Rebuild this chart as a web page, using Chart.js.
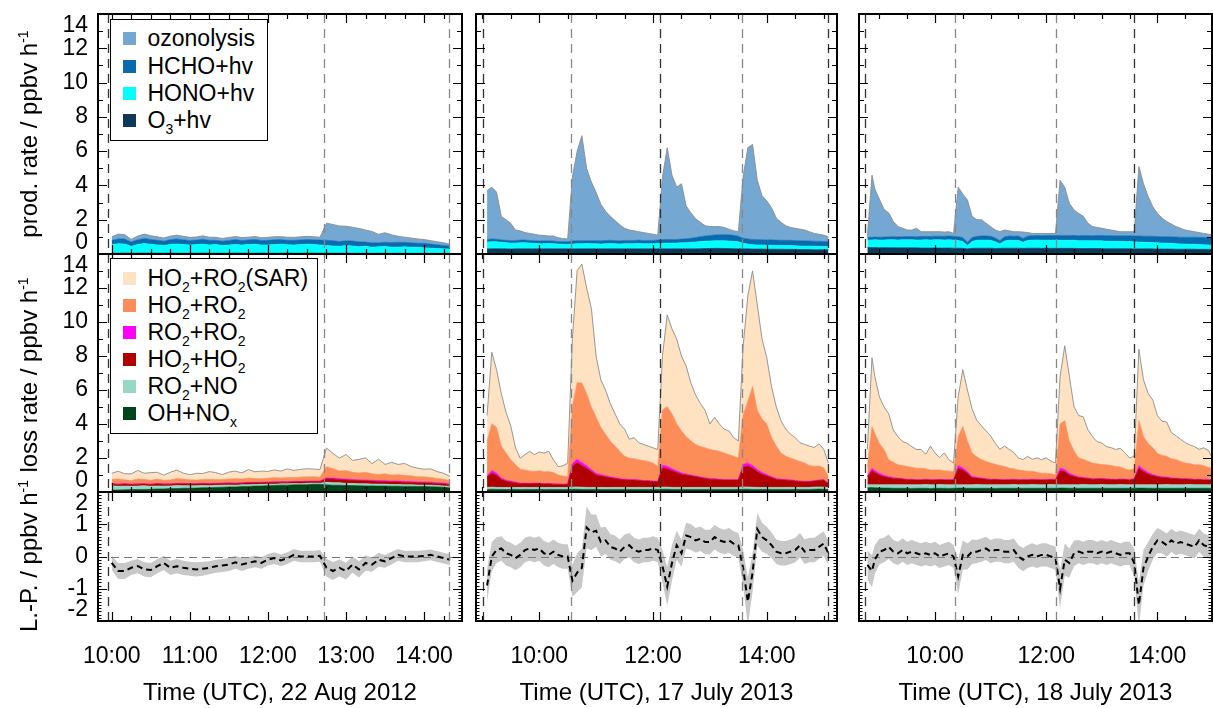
<!DOCTYPE html>
<html><head><meta charset="utf-8"><title>Radical production and loss rates</title>
<script src="https://cdn.jsdelivr.net/npm/chart.js@4.4.1/dist/chart.umd.min.js"></script>
<style>
html,body{margin:0;padding:0;background:#fff;}
#root{position:relative;width:1213px;height:708px;overflow:hidden;font-family:'Liberation Sans',Arial,Helvetica,sans-serif;color:#000;}
#root canvas{position:absolute;}
.lg{position:absolute;box-sizing:border-box;border:1.5px solid #000;background:#fff;font-size:23px;z-index:5;}
.lg .r{position:absolute;left:0;height:27px;line-height:27px;white-space:nowrap;}
.lg .s{position:absolute;left:11.5px;top:7px;width:13px;height:13px;}
.lg .t{position:absolute;left:36.5px;top:0;}
.lg sub{font-size:14px;vertical-align:-6px;line-height:0;}
.yt{position:absolute;font-size:24px;line-height:24px;white-space:nowrap;transform:translate(-50%,-50%) rotate(-90deg);z-index:5;}
.yt sup{font-size:14px;vertical-align:9px;line-height:0;}
</style></head><body><div id="root"></div>
<script>
const FONT="'Liberation Sans', Arial, Helvetica, sans-serif";
const hm=s=>{const p=s.split(':');return +p[0]+(+p[1])/60;};

// ---------------- 22 Aug 2012 ----------------
const P1_T=['10:00','10:05','10:10','10:15','10:20','10:25','10:30','10:35','10:40','10:45',
 '10:50','10:55','11:00','11:05','11:10','11:15','11:20','11:25','11:30','11:35',
 '11:40','11:45','11:50','11:55','12:00','12:05','12:10','12:15','12:20','12:25',
 '12:30','12:35','12:40','12:45','12:50','12:55','13:00','13:05','13:10','13:15',
 '13:20','13:25','13:30','13:35','13:40','13:45','13:50','13:55','14:00','14:05',
 '14:10','14:15','14:20'];
const P1_O3HV=[0.05,0.05,0.06,0.05,0.05,0.06,0.05,0.05,0.05,0.06,
 0.05,0.05,0.05,0.05,0.06,0.05,0.05,0.05,0.05,0.06,
 0.05,0.05,0.05,0.06,0.05,0.05,0.05,0.06,0.05,0.05,
 0.05,0.06,0.05,0.05,0.05,0.05,0.05,0.04,0.05,0.05,
 0.04,0.05,0.04,0.04,0.05,0.04,0.04,0.04,0.04,0.04,
 0.04,0.04,0.04];
const P1_HONO=[0.50,0.55,0.52,0.40,0.50,0.55,0.52,0.48,0.45,0.50,
 0.53,0.50,0.47,0.50,0.52,0.48,0.50,0.45,0.47,0.50,
 0.48,0.50,0.52,0.47,0.48,0.50,0.52,0.48,0.47,0.50,
 0.52,0.50,0.48,0.45,0.42,0.40,0.45,0.42,0.38,0.40,
 0.35,0.38,0.40,0.36,0.35,0.38,0.36,0.35,0.33,0.30,
 0.28,0.26,0.25];
const P1_HCHO=[0.25,0.28,0.30,0.25,0.28,0.30,0.28,0.27,0.25,0.28,
 0.30,0.28,0.27,0.26,0.28,0.27,0.25,0.25,0.27,0.28,
 0.26,0.27,0.28,0.26,0.27,0.28,0.27,0.26,0.28,0.27,
 0.28,0.27,0.28,0.30,0.30,0.28,0.27,0.30,0.28,0.25,
 0.27,0.22,0.25,0.27,0.28,0.26,0.25,0.24,0.25,0.24,
 0.22,0.20,0.18];
const P1_OZON=[0.20,0.28,0.25,0.15,0.22,0.25,0.22,0.20,0.18,0.20,
 0.22,0.20,0.18,0.18,0.20,0.18,0.17,0.16,0.17,0.18,
 0.17,0.16,0.17,0.16,0.17,0.18,0.17,0.18,0.17,0.18,
 0.18,0.18,0.17,1.00,0.95,0.90,0.85,0.80,0.78,0.70,
 0.65,0.50,0.55,0.45,0.35,0.30,0.28,0.25,0.22,0.20,
 0.18,0.15,0.10];
const P1_OHNOX=[0.12,0.12,0.13,0.14,0.15,0.15,0.16,0.18,0.18,0.20,
 0.20,0.22,0.22,0.23,0.25,0.25,0.27,0.28,0.30,0.30,
 0.32,0.33,0.35,0.35,0.37,0.38,0.40,0.40,0.42,0.42,
 0.43,0.45,0.45,0.42,0.40,0.40,0.38,0.38,0.37,0.36,
 0.36,0.35,0.35,0.34,0.34,0.33,0.33,0.32,0.32,0.31,
 0.30,0.28,0.25];
const P1_RO2NO=[0.25,0.22,0.22,0.20,0.20,0.22,0.18,0.18,0.17,0.16,
 0.18,0.15,0.15,0.14,0.13,0.12,0.12,0.12,0.11,0.10,
 0.10,0.10,0.09,0.10,0.09,0.08,0.08,0.08,0.08,0.07,
 0.08,0.07,0.07,0.15,0.15,0.14,0.13,0.12,0.12,0.12,
 0.11,0.11,0.11,0.10,0.10,0.10,0.10,0.09,0.09,0.09,
 0.08,0.08,0.08];
const P1_HO2HO2=[0.10,0.10,0.12,0.10,0.11,0.10,0.10,0.12,0.11,0.10,
 0.10,0.11,0.10,0.10,0.11,0.10,0.10,0.10,0.11,0.10,
 0.10,0.11,0.10,0.10,0.10,0.11,0.10,0.10,0.10,0.11,
 0.10,0.10,0.10,0.22,0.22,0.20,0.20,0.19,0.18,0.18,
 0.17,0.17,0.16,0.16,0.15,0.15,0.14,0.14,0.13,0.13,
 0.12,0.12,0.10];
const P1_RO2RO2=[0.03,0.03,0.03,0.03,0.03,0.03,0.03,0.03,0.03,0.03,
 0.03,0.03,0.03,0.03,0.03,0.03,0.03,0.03,0.03,0.03,
 0.03,0.03,0.03,0.03,0.03,0.03,0.03,0.03,0.03,0.03,
 0.03,0.03,0.03,0.05,0.05,0.05,0.05,0.05,0.05,0.05,
 0.05,0.05,0.05,0.05,0.05,0.05,0.05,0.05,0.05,0.05,
 0.05,0.05,0.05];
const P1_HO2RO2=[0.25,0.30,0.22,0.20,0.28,0.25,0.22,0.25,0.20,0.22,
 0.28,0.25,0.22,0.20,0.22,0.25,0.22,0.20,0.22,0.25,
 0.22,0.25,0.22,0.20,0.22,0.25,0.22,0.25,0.22,0.25,
 0.25,0.25,0.22,0.65,0.55,0.45,0.50,0.42,0.40,0.45,
 0.38,0.35,0.40,0.35,0.38,0.35,0.33,0.30,0.30,0.28,
 0.25,0.22,0.18];
const P1_SAR=[0.35,0.45,0.35,0.40,0.50,0.35,0.45,0.40,0.30,0.45,
 0.50,0.35,0.30,0.40,0.35,0.45,0.40,0.30,0.40,0.45,
 0.35,0.50,0.40,0.45,0.40,0.45,0.40,0.50,0.42,0.45,
 0.48,0.45,0.45,1.10,0.90,0.75,0.95,0.70,0.80,0.85,
 0.60,0.90,0.55,0.75,0.60,0.70,0.55,0.50,0.45,0.50,
 0.40,0.35,0.25];
const P1_LP=[-0.20,-0.45,-0.45,-0.35,-0.30,-0.40,-0.42,-0.30,-0.20,-0.35,
 -0.30,-0.35,-0.38,-0.40,-0.38,-0.35,-0.30,-0.28,-0.25,-0.18,
 -0.25,-0.20,-0.15,-0.20,-0.10,-0.05,-0.12,-0.05,0.05,0.00,
 0.00,0.00,0.02,-0.35,-0.45,-0.35,-0.45,-0.25,-0.40,-0.20,
 -0.25,-0.10,-0.15,-0.05,0.05,0.00,0.00,0.00,0.02,0.05,
 0.00,-0.05,-0.10];
const P1_ERR=[0.22,0.25,0.25,0.22,0.22,0.22,0.22,0.22,0.22,0.22,
 0.22,0.22,0.22,0.22,0.22,0.20,0.20,0.20,0.20,0.20,
 0.20,0.18,0.18,0.18,0.18,0.18,0.18,0.18,0.18,0.18,
 0.18,0.18,0.18,0.28,0.28,0.26,0.26,0.25,0.25,0.24,
 0.22,0.22,0.20,0.20,0.18,0.18,0.18,0.18,0.17,0.17,
 0.17,0.17,0.17];

// ---------------- 17 July 2013 ----------------
const P2_T=['09:05','09:10','09:15','09:20','09:25','09:30','09:35','09:40','09:45','09:50',
 '09:55','10:00','10:05','10:10','10:15','10:20','10:25','10:30','10:35','10:40',
 '10:45','10:50','10:55','11:00','11:05','11:10','11:15','11:20','11:25','11:30',
 '11:35','11:40','11:45','11:50','11:55','12:00','12:05','12:10','12:15','12:20',
 '12:25','12:30','12:35','12:40','12:45','12:50','12:55','13:00','13:05','13:10',
 '13:15','13:20','13:25','13:30','13:35','13:40','13:45','13:50','13:55','14:00',
 '14:05','14:10','14:15','14:20','14:25','14:30','14:35','14:40','14:45','14:50',
 '14:55','15:00','15:05'];
const P2_O3HV=[0.30,0.30,0.31,0.30,0.30,0.29,0.30,0.30,0.30,0.30,
 0.30,0.30,0.30,0.30,0.30,0.30,0.30,0.30,0.30,0.30,
 0.30,0.30,0.30,0.30,0.30,0.30,0.30,0.30,0.30,0.30,
 0.30,0.30,0.30,0.30,0.30,0.30,0.30,0.30,0.30,0.30,
 0.30,0.30,0.30,0.30,0.30,0.31,0.32,0.32,0.33,0.33,
 0.32,0.32,0.31,0.31,0.30,0.30,0.29,0.29,0.29,0.28,
 0.28,0.28,0.28,0.27,0.27,0.27,0.26,0.26,0.26,0.25,
 0.25,0.25,0.25];
const P2_HONO=[0.40,0.42,0.40,0.38,0.36,0.35,0.34,0.35,0.36,0.34,
 0.32,0.30,0.30,0.31,0.30,0.28,0.27,0.26,0.28,0.30,
 0.30,0.31,0.30,0.30,0.29,0.30,0.31,0.30,0.29,0.30,
 0.30,0.30,0.31,0.30,0.30,0.30,0.31,0.32,0.33,0.33,
 0.34,0.35,0.36,0.38,0.40,0.42,0.43,0.44,0.44,0.45,
 0.45,0.44,0.43,0.40,0.32,0.28,0.25,0.24,0.24,0.23,
 0.23,0.22,0.22,0.22,0.22,0.21,0.21,0.20,0.20,0.20,
 0.20,0.19,0.19];
const P2_HCHO=[0.15,0.16,0.15,0.15,0.14,0.14,0.15,0.16,0.16,0.15,
 0.15,0.16,0.17,0.16,0.16,0.15,0.15,0.16,0.18,0.18,
 0.17,0.17,0.18,0.18,0.18,0.19,0.19,0.18,0.18,0.19,
 0.19,0.19,0.20,0.19,0.19,0.19,0.20,0.22,0.22,0.21,
 0.21,0.22,0.23,0.24,0.26,0.28,0.30,0.32,0.34,0.35,
 0.36,0.36,0.35,0.33,0.30,0.30,0.31,0.31,0.30,0.31,
 0.32,0.31,0.30,0.31,0.31,0.30,0.30,0.31,0.30,0.30,
 0.29,0.29,0.28];
const P2_OZON=[2.85,3.02,2.75,1.37,1.20,1.01,0.61,0.54,0.43,0.41,
 0.38,0.34,0.31,0.28,0.29,0.22,0.18,0.16,3.74,5.22,
 6.13,4.22,3.42,2.82,2.13,1.71,1.40,1.17,0.93,0.71,
 0.61,0.56,0.49,0.46,0.41,0.36,0.29,3.66,5.35,3.76,
 3.05,3.23,1.91,1.48,1.09,0.84,0.60,0.52,0.49,0.47,
 0.42,0.33,0.26,0.26,3.58,5.32,5.55,3.46,2.57,2.28,
 1.87,1.29,1.05,0.85,0.75,0.72,0.68,0.63,0.54,0.45,
 0.41,0.37,0.28];
const P2_OHNOX=[0.15,0.16,0.15,0.15,0.14,0.15,0.15,0.14,0.15,0.15,
 0.15,0.15,0.14,0.15,0.15,0.15,0.14,0.15,0.16,0.16,
 0.15,0.15,0.15,0.15,0.15,0.14,0.15,0.15,0.15,0.15,
 0.15,0.15,0.15,0.15,0.15,0.15,0.15,0.16,0.16,0.15,
 0.15,0.15,0.15,0.15,0.15,0.15,0.15,0.15,0.15,0.15,
 0.15,0.15,0.15,0.15,0.16,0.16,0.15,0.15,0.15,0.15,
 0.15,0.15,0.15,0.15,0.15,0.15,0.15,0.15,0.15,0.16,
 0.17,0.16,0.14];
const P2_RO2NO=[0.12,0.13,0.12,0.12,0.12,0.11,0.12,0.12,0.12,0.11,
 0.12,0.12,0.12,0.12,0.11,0.12,0.12,0.12,0.13,0.14,
 0.13,0.12,0.12,0.12,0.12,0.12,0.11,0.12,0.12,0.12,
 0.12,0.12,0.12,0.12,0.12,0.12,0.12,0.13,0.13,0.12,
 0.12,0.12,0.12,0.12,0.12,0.12,0.12,0.12,0.12,0.12,
 0.12,0.12,0.12,0.12,0.14,0.14,0.13,0.12,0.12,0.12,
 0.12,0.12,0.12,0.12,0.12,0.12,0.12,0.12,0.12,0.13,
 0.13,0.13,0.12];
const P2_HO2HO2=[0.63,0.83,0.73,0.48,0.38,0.33,0.28,0.23,0.23,0.23,
 0.23,0.23,0.21,0.21,0.20,0.18,0.18,0.18,1.23,1.43,
 1.28,1.13,0.93,0.73,0.68,0.63,0.58,0.53,0.48,0.45,
 0.43,0.43,0.41,0.38,0.38,0.35,0.33,1.13,1.08,0.98,
 0.88,0.78,0.73,0.68,0.63,0.58,0.53,0.48,0.48,0.45,
 0.43,0.43,0.43,0.43,1.18,1.23,1.13,0.93,0.78,0.68,
 0.58,0.48,0.45,0.43,0.41,0.38,0.35,0.33,0.33,0.35,
 0.38,0.41,0.23];
const P2_RO2RO2=[0.05,0.15,0.12,0.08,0.06,0.05,0.04,0.04,0.03,0.03,
 0.03,0.03,0.03,0.03,0.03,0.03,0.03,0.03,0.15,0.20,
 0.18,0.15,0.12,0.10,0.08,0.07,0.05,0.05,0.04,0.04,
 0.04,0.04,0.04,0.03,0.03,0.03,0.03,0.15,0.15,0.12,
 0.10,0.08,0.06,0.05,0.05,0.04,0.04,0.04,0.04,0.04,
 0.03,0.03,0.03,0.03,0.15,0.18,0.15,0.12,0.10,0.08,
 0.06,0.05,0.04,0.04,0.04,0.03,0.03,0.03,0.03,0.03,
 0.03,0.03,0.03];
const P2_HO2RO2=[2.05,2.75,2.68,1.87,1.59,1.25,1.01,0.81,0.77,0.72,
 0.67,0.72,0.69,0.69,0.65,0.52,0.47,0.42,3.35,4.50,
 4.67,4.25,3.68,3.30,2.77,2.43,2.10,1.85,1.61,1.34,
 1.26,1.21,1.18,1.17,1.12,1.05,0.87,3.25,3.50,3.23,
 2.75,2.47,2.19,2.00,1.85,1.78,1.76,1.71,1.66,1.64,
 1.57,1.47,1.37,1.27,2.90,3.62,4.65,3.48,3.15,2.97,
 2.29,1.90,1.54,1.36,1.28,1.22,1.15,1.07,0.92,0.85,
 0.82,0.69,0.37];
const P2_SAR=[1.50,4.20,3.40,3.10,2.40,2.00,1.00,0.65,0.90,1.15,
 1.00,1.10,1.10,1.20,0.75,0.50,0.60,0.80,4.00,6.60,
 7.00,6.20,5.80,3.60,2.80,2.60,2.20,1.90,1.60,1.60,
 1.10,1.25,1.00,0.95,0.90,0.90,1.00,3.20,5.40,5.00,
 5.00,4.40,4.15,3.40,2.90,2.53,2.20,1.50,1.95,1.60,
 1.40,1.40,1.10,1.00,4.00,6.20,6.80,6.20,4.70,3.90,
 3.00,2.30,1.90,1.60,1.40,1.30,1.10,1.10,1.15,1.10,
 1.30,1.10,0.80];
const P2_LP=[-0.90,0.00,0.20,0.25,0.10,0.05,-0.05,0.05,0.20,0.25,
 0.20,0.25,0.10,0.05,0.15,0.05,0.00,0.00,-0.75,-0.50,
 -0.35,0.90,0.75,0.80,0.45,0.50,0.30,0.25,0.15,0.30,
 0.35,0.20,0.15,0.20,0.20,0.25,0.20,-0.30,-0.93,-0.20,
 0.35,0.10,0.65,0.60,0.50,0.55,0.45,0.45,0.60,0.50,
 0.45,0.50,0.40,0.35,-0.35,-1.40,-0.50,0.85,0.60,0.50,
 0.35,0.15,0.10,0.10,0.15,0.20,0.35,0.15,0.20,0.20,
 0.30,0.40,0.10];
const P2_ERR=[0.50,0.45,0.40,0.38,0.38,0.38,0.38,0.38,0.38,0.38,
 0.38,0.38,0.38,0.38,0.38,0.38,0.38,0.38,0.50,0.60,
 0.60,0.65,0.55,0.50,0.45,0.42,0.40,0.40,0.38,0.38,
 0.38,0.38,0.38,0.38,0.38,0.38,0.38,0.50,0.60,0.55,
 0.45,0.42,0.40,0.40,0.38,0.38,0.38,0.38,0.38,0.38,
 0.38,0.38,0.38,0.38,0.55,0.75,0.60,0.50,0.45,0.42,
 0.40,0.38,0.38,0.38,0.38,0.38,0.38,0.38,0.38,0.38,
 0.38,0.38,0.38];

// ---------------- 18 July 2013 ----------------
const P3_T=['08:47','08:52','08:55','09:00','09:05','09:10','09:15','09:20','09:25','09:30',
 '09:35','09:40','09:45','09:50','09:55','10:00','10:05','10:10','10:15','10:20',
 '10:25','10:30','10:35','10:40','10:45','10:50','10:55','11:00','11:05','11:10',
 '11:15','11:20','11:25','11:30','11:35','11:40','11:45','11:50','11:55','12:00',
 '12:05','12:10','12:15','12:20','12:25','12:30','12:35','12:40','12:45','12:50',
 '12:55','13:00','13:05','13:10','13:15','13:20','13:25','13:30','13:35','13:40',
 '13:45','13:50','13:55','14:00','14:05','14:10','14:15','14:20','14:25','14:30',
 '14:35','14:40','14:45','14:50','14:55','15:00'];
const P3_O3HV=[0.38,0.38,0.38,0.37,0.37,0.37,0.37,0.36,0.36,0.36,
 0.36,0.36,0.35,0.35,0.35,0.35,0.35,0.35,0.35,0.34,
 0.34,0.33,0.30,0.33,0.34,0.34,0.34,0.34,0.32,0.33,
 0.34,0.34,0.34,0.34,0.33,0.34,0.34,0.34,0.33,0.33,
 0.33,0.33,0.33,0.33,0.33,0.33,0.32,0.32,0.32,0.32,
 0.32,0.32,0.31,0.31,0.31,0.31,0.31,0.31,0.30,0.30,
 0.30,0.30,0.30,0.29,0.29,0.29,0.29,0.28,0.28,0.28,
 0.28,0.28,0.27,0.27,0.27,0.27];
const P3_HONO=[0.44,0.44,0.45,0.45,0.45,0.46,0.46,0.46,0.47,0.47,
 0.47,0.46,0.47,0.48,0.47,0.48,0.48,0.47,0.48,0.47,
 0.45,0.40,0.18,0.40,0.46,0.47,0.47,0.46,0.40,0.25,
 0.42,0.46,0.45,0.46,0.35,0.45,0.47,0.48,0.48,0.48,
 0.48,0.48,0.47,0.47,0.47,0.47,0.46,0.46,0.46,0.45,
 0.45,0.45,0.44,0.44,0.43,0.43,0.42,0.42,0.41,0.40,
 0.39,0.38,0.37,0.36,0.35,0.34,0.33,0.32,0.31,0.30,
 0.29,0.29,0.28,0.27,0.26,0.26];
const P3_HCHO=[0.15,0.15,0.16,0.16,0.17,0.17,0.18,0.18,0.18,0.19,
 0.19,0.19,0.20,0.20,0.20,0.21,0.21,0.21,0.22,0.22,
 0.22,0.23,0.20,0.23,0.23,0.24,0.24,0.24,0.22,0.20,
 0.24,0.25,0.25,0.25,0.23,0.25,0.26,0.26,0.26,0.27,
 0.27,0.27,0.28,0.28,0.28,0.29,0.29,0.30,0.30,0.30,
 0.31,0.31,0.32,0.32,0.32,0.33,0.33,0.34,0.34,0.35,
 0.35,0.36,0.36,0.37,0.37,0.38,0.38,0.39,0.39,0.40,
 0.40,0.41,0.42,0.42,0.43,0.44];
const P3_OZON=[0.05,3.63,2.81,2.22,1.61,1.40,0.89,0.60,0.49,0.38,
 0.38,0.49,0.28,0.27,0.28,0.26,0.26,0.25,0.25,0.17,
 2.89,2.54,2.47,1.24,0.97,0.95,0.75,0.56,0.46,0.52,
 0.40,0.30,0.26,0.25,0.37,0.21,0.13,0.12,0.13,0.12,
 0.12,0.12,3.22,2.82,1.88,1.48,1.30,1.12,0.72,0.53,
 0.47,0.42,0.38,0.33,0.29,0.23,0.24,0.23,0.25,4.05,
 3.06,2.31,1.73,1.35,1.09,0.89,0.75,0.61,0.52,0.42,
 0.38,0.32,0.28,0.24,0.19,0.13];
const P3_OHNOX=[0.25,0.26,0.25,0.24,0.23,0.23,0.22,0.22,0.22,0.22,
 0.21,0.22,0.22,0.22,0.21,0.22,0.22,0.22,0.21,0.22,
 0.23,0.23,0.22,0.22,0.22,0.22,0.22,0.22,0.21,0.22,
 0.22,0.22,0.22,0.22,0.22,0.22,0.22,0.22,0.22,0.22,
 0.22,0.22,0.23,0.23,0.22,0.22,0.22,0.22,0.22,0.22,
 0.22,0.22,0.22,0.22,0.22,0.22,0.22,0.22,0.22,0.23,
 0.23,0.22,0.22,0.22,0.22,0.22,0.22,0.22,0.22,0.22,
 0.22,0.22,0.22,0.22,0.22,0.22];
const P3_RO2NO=[0.17,0.16,0.17,0.18,0.19,0.19,0.20,0.20,0.21,0.20,
 0.21,0.20,0.20,0.22,0.21,0.20,0.22,0.20,0.21,0.20,
 0.19,0.19,0.20,0.20,0.22,0.21,0.20,0.20,0.22,0.21,
 0.20,0.21,0.22,0.20,0.21,0.20,0.22,0.21,0.20,0.21,
 0.22,0.21,0.19,0.19,0.20,0.21,0.20,0.22,0.21,0.20,
 0.21,0.22,0.20,0.21,0.20,0.22,0.21,0.20,0.21,0.19,
 0.19,0.20,0.21,0.20,0.21,0.22,0.20,0.21,0.20,0.21,
 0.22,0.20,0.21,0.20,0.20,0.21];
const P3_HO2HO2=[0.48,0.83,0.73,0.58,0.48,0.43,0.38,0.36,0.33,0.30,
 0.30,0.28,0.28,0.28,0.28,0.28,0.28,0.28,0.28,0.28,
 0.98,0.88,0.68,0.43,0.38,0.36,0.33,0.30,0.30,0.28,
 0.28,0.28,0.28,0.28,0.28,0.28,0.28,0.28,0.28,0.28,
 0.28,0.28,0.83,0.78,0.58,0.48,0.43,0.38,0.36,0.33,
 0.33,0.33,0.33,0.30,0.30,0.30,0.30,0.28,0.33,0.98,
 0.78,0.63,0.53,0.48,0.43,0.40,0.38,0.36,0.34,0.33,
 0.31,0.30,0.30,0.28,0.28,0.28];
const P3_RO2RO2=[0.05,0.15,0.12,0.10,0.08,0.06,0.05,0.04,0.03,0.03,
 0.03,0.03,0.03,0.03,0.03,0.03,0.03,0.03,0.03,0.03,
 0.15,0.12,0.10,0.06,0.05,0.04,0.04,0.03,0.03,0.03,
 0.03,0.03,0.03,0.03,0.03,0.03,0.03,0.03,0.03,0.03,
 0.03,0.03,0.15,0.12,0.10,0.07,0.05,0.04,0.04,0.03,
 0.03,0.03,0.03,0.03,0.03,0.03,0.03,0.03,0.04,0.15,
 0.12,0.10,0.07,0.05,0.04,0.04,0.04,0.03,0.03,0.03,
 0.03,0.03,0.03,0.03,0.03,0.03];
const P3_HO2RO2=[0.55,2.45,2.18,1.76,1.52,0.99,0.90,0.78,0.77,0.75,
 0.70,0.67,0.67,0.62,0.57,0.57,0.55,0.52,0.49,0.47,
 1.70,2.43,1.80,1.39,1.20,1.08,1.01,0.95,0.87,0.82,
 0.77,0.67,0.62,0.57,0.52,0.49,0.47,0.42,0.37,0.37,
 0.32,0.27,2.60,2.88,1.90,1.43,1.10,1.06,0.98,0.92,
 0.87,0.82,0.82,0.80,0.75,0.70,0.60,0.57,0.56,2.65,
 1.93,1.71,1.58,1.32,1.26,1.22,1.11,1.09,1.01,0.92,
 0.89,0.85,0.85,0.82,0.72,0.67];
const P3_SAR=[1.00,4.05,3.35,2.74,2.50,2.70,1.90,1.65,1.41,1.36,
 1.22,1.10,1.10,0.85,1.40,1.00,0.72,1.05,0.68,0.50,
 2.35,3.35,3.00,2.60,2.15,2.00,1.80,1.60,1.24,0.95,
 1.20,1.10,0.95,0.70,0.65,0.88,0.70,0.85,0.80,0.90,
 0.75,0.70,2.80,4.40,3.80,2.60,2.50,2.50,1.85,1.55,
 1.30,1.26,1.07,1.05,1.00,1.10,0.95,0.70,0.75,4.20,
 3.35,2.94,2.80,2.23,2.00,2.02,1.55,1.40,1.30,1.20,
 1.10,1.07,0.90,1.05,1.00,0.50];
const P3_LP=[-0.26,-0.45,-0.10,0.15,0.20,0.30,0.15,0.10,0.20,0.10,
 0.15,0.10,0.05,0.10,0.05,0.10,0.00,0.05,0.10,0.00,
 -0.62,0.05,0.00,0.15,0.15,0.20,0.25,0.15,0.20,0.20,
 0.15,0.15,0.20,0.00,-0.10,0.00,0.05,0.00,0.05,0.05,
 0.00,-0.05,-1.00,-0.10,-0.20,0.10,0.15,0.10,0.15,0.15,
 0.10,0.15,0.10,0.15,0.10,0.05,0.10,0.10,-0.20,-1.50,
 -0.35,0.00,0.30,0.50,0.45,0.35,0.50,0.40,0.45,0.40,
 0.35,0.30,0.50,0.35,0.30,0.25];
const P3_ERR=[0.45,0.50,0.45,0.40,0.38,0.38,0.36,0.36,0.36,0.36,
 0.36,0.36,0.36,0.36,0.36,0.36,0.36,0.36,0.36,0.36,
 0.55,0.45,0.40,0.38,0.36,0.36,0.36,0.36,0.36,0.36,
 0.36,0.36,0.36,0.36,0.36,0.36,0.36,0.36,0.36,0.36,
 0.36,0.36,0.60,0.50,0.45,0.40,0.36,0.36,0.36,0.36,
 0.36,0.36,0.36,0.36,0.36,0.36,0.36,0.36,0.45,0.70,
 0.55,0.45,0.40,0.38,0.36,0.36,0.36,0.36,0.36,0.36,
 0.36,0.36,0.36,0.36,0.36,0.36];

// ---------------- labels, ticks, events ----------------
const XLABELS=[['10:00','11:00','12:00','13:00','14:00'],['10:00','12:00','14:00'],['10:00','12:00','14:00']];
const XTITLES=['Time (UTC), 22 Aug 2012','Time (UTC), 17 July 2013','Time (UTC), 18 July 2013'];
const RATE_TICKS=[0,2,4,6,8,10,12,14];
const LP_TICKS=[-2,-1,0,1,2];
const EVENTS=[['09:57','12:43','14:19'],['09:01','10:33','12:07','13:34','15:05'],['08:44','10:22','12:11','13:35']];
const SHADES=[['#333','#888','#888'],['#333','#888','#333','#888','#333'],['#333','#888','#888','#333']];
const PROD_NAMES=['O₃+hv','HONO+hv','HCHO+hv','ozonolysis'];
const PROD_COLORS=['#0d3a5a','#00ffff','#0a6aae','#74a8d2'];
const LOSS_NAMES=['OH+NOₓ','RO₂+NO','HO₂+HO₂','RO₂+RO₂','HO₂+RO₂','HO₂+RO₂(SAR)'];
const LOSS_COLORS=['#00441b','#97d7c6','#b00000','#ff00ff','#fc8d59','#fee2c2'];
const PROD_LEG=['ozonolysis','HCHO+hv','HONO+hv','O<sub>3</sub>+hv'];
const LOSS_LEG=['HO<sub>2</sub>+RO<sub>2</sub>(SAR)','HO<sub>2</sub>+RO<sub>2</sub>','RO<sub>2</sub>+RO<sub>2</sub>','HO<sub>2</sub>+HO<sub>2</sub>','RO<sub>2</sub>+NO','OH+NO<sub>x</sub>'];

// ---------------- layout ----------------
const COLS=[{L:98,R:462,xmin:9.8246,xmax:14.4853,minor:0.25},{L:476,R:837,xmin:8.889,xmax:15.234,minor:0.5},{L:859,R:1212,xmin:8.633,xmax:14.982,minor:0.5}];
const ROWS=[{T:14,B:254,ymin:0,ymax:14,major:2,minor:1},{T:254,B:492,ymin:0,ymax:14,major:2,minor:1},{T:492,B:621,ymin:-2,ymax:2,major:1,minor:0.1}];
const root=document.getElementById('root');

const framePlugin={id:'frame',
 afterDatasetDraw(chart,args,o){
   if(!o.zero||args.index!==1)return;
   const {ctx,chartArea:a}=chart;const y=Math.round(chart.scales.y.getPixelForValue(0))+0.5;
   ctx.save();ctx.strokeStyle='#7a7a7a';ctx.lineWidth=1.2;ctx.setLineDash([8,5]);
   ctx.beginPath();ctx.moveTo(a.left,y);ctx.lineTo(a.right,y);ctx.stroke();ctx.restore();
 },
 afterDatasetsDraw(chart,args,o){
   const {ctx,chartArea:a}=chart;const xs=chart.scales.x,ys=chart.scales.y;
   ctx.save();
   ctx.beginPath();ctx.rect(a.left,a.top,a.right-a.left,a.bottom-a.top);ctx.clip();
   ctx.lineWidth=1.3;ctx.setLineDash([9,6]);
   o.ev.forEach((t,i)=>{const px=Math.round(xs.getPixelForValue(hm(t)))+0.5;ctx.strokeStyle=o.shades[i];ctx.beginPath();ctx.moveTo(px,a.top);ctx.lineTo(px,a.bottom);ctx.stroke();});
   ctx.setLineDash([]);ctx.strokeStyle='#000';ctx.lineWidth=1.2;
   const xmaj=o.xMajor.map(hm);
   ctx.beginPath();
   for(let k=Math.ceil(xs.min/o.xMinor-1e-9);k*o.xMinor<=xs.max+1e-9;k++){
     const v=k*o.xMinor;const len=xmaj.some(m=>Math.abs(m-v)<1e-6)?9:5;
     const px=Math.round(xs.getPixelForValue(v))+0.5;
     ctx.moveTo(px,a.top);ctx.lineTo(px,a.top+len);ctx.moveTo(px,a.bottom);ctx.lineTo(px,a.bottom-len);
   }
   for(let k=Math.ceil(ys.min/o.yminor-1e-9);k*o.yminor<=ys.max+1e-9;k++){
     const v=k*o.yminor;const q=v/o.ymajor;const len=Math.abs(q-Math.round(q))<1e-6?9:(o.yminor<0.5?3.5:5);
     const py=Math.round(ys.getPixelForValue(v))+0.5;
     ctx.moveTo(a.left,py);ctx.lineTo(a.left+len,py);ctx.moveTo(a.right,py);ctx.lineTo(a.right-len,py);
   }
   ctx.stroke();
   ctx.restore();
   ctx.save();ctx.lineWidth=2;ctx.strokeStyle='#000';ctx.strokeRect(a.left,a.top,a.right-a.left,a.bottom-a.top);ctx.restore();
 }
};

function stackSets(t,comps,colors,names){
  const x=t.map(hm);
  return comps.map((vals,i)=>{const top=i===comps.length-1;return{label:names[i],data:vals.map((v,k)=>({x:x[k],y:v})),
    backgroundColor:colors[i],borderColor:top?'#8c8c8c':colors[i],borderWidth:top?0.9:0.6,
    fill:i===0?'start':'-1',pointRadius:0,tension:0,stack:'s'};});
}
function lpSets(t,lp,err){
  const x=t.map(hm);
  return [
   {label:'L-P',data:lp.map((v,k)=>({x:x[k],y:v})),borderColor:'#000',borderWidth:2,borderDash:[6,4],fill:false,pointRadius:0,tension:0},
   {label:'L-P low',data:lp.map((v,k)=>({x:x[k],y:v-err[k]})),borderColor:'rgba(0,0,0,0)',borderWidth:0,fill:false,pointRadius:0,tension:0},
   {label:'L-P high',data:lp.map((v,k)=>({x:x[k],y:v+err[k]})),borderColor:'rgba(0,0,0,0)',backgroundColor:'#c8c8c8',borderWidth:0,fill:'-1',pointRadius:0,tension:0}
  ];
}
function noPad(s){s.paddingTop=0;s.paddingBottom=0;s.paddingLeft=0;s.paddingRight=0;}

function makeChart(ci,ri,datasets){
  const c=COLS[ci],r=ROWS[ri];
  const left=ci===0?0:c.L-3, top=r.T-3, right=Math.min(c.R+3,1213), bottom=ri===2?708:r.B+3;
  const cv=document.createElement('canvas');
  cv.width=right-left;cv.height=bottom-top;
  cv.style.left=left+'px';cv.style.top=top+'px';cv.style.width=(right-left)+'px';cv.style.height=(bottom-top)+'px';
  root.appendChild(cv);
  const yTicks=ri===2?LP_TICKS:RATE_TICKS;
  new Chart(cv,{type:'line',data:{datasets},plugins:[framePlugin],options:{
    responsive:false,animation:false,devicePixelRatio:1,events:[],
    layout:{padding:{left:ci===0?0:3,top:3,right:right-c.R,bottom:ri===2?0:3}},
    plugins:{legend:{display:false},tooltip:{enabled:false},
      frame:{ev:EVENTS[ci],shades:SHADES[ci],xMajor:XLABELS[ci],xMinor:c.minor,zero:ri===2,ymajor:r.major,yminor:r.minor}},
    scales:{
      x:{type:'linear',min:c.xmin,max:c.xmax,display:ri===2,
         afterBuildTicks:s=>{s.ticks=XLABELS[ci].map(l=>({value:hm(l)}));},
         afterFit:s=>{noPad(s);if(ri===2)s.height=708-r.B;},
         grid:{display:false,drawTicks:false},border:{display:false},
         ticks:{autoSkip:false,maxRotation:0,minRotation:0,padding:22,color:'#000',font:{family:FONT,size:23,lineHeight:1.2},callback:(v,i)=>XLABELS[ci][i]},
         title:{display:true,text:XTITLES[ci],color:'#000',font:{family:FONT,size:24,lineHeight:1.2},padding:{top:0,bottom:0}}},
      y:{type:'linear',min:r.ymin,max:r.ymax,stacked:ri<2,display:ci===0,
         afterBuildTicks:s=>{s.ticks=yTicks.map(v=>({value:v}));},
         afterFit:s=>{noPad(s);if(ci===0)s.width=c.L-left;},
         grid:{display:false,drawTicks:false},border:{display:false},
         ticks:{autoSkip:false,padding:10,color:'#000',font:{family:FONT,size:23,lineHeight:1},
           callback:v=>v===r.ymax?['',String(v)]:(v===r.ymin?[String(v),'']:String(v))}}
    }}});
}

const PANELS=[
  {t:P1_T,prod:[P1_O3HV,P1_HONO,P1_HCHO,P1_OZON],loss:[P1_OHNOX,P1_RO2NO,P1_HO2HO2,P1_RO2RO2,P1_HO2RO2,P1_SAR],lp:P1_LP,err:P1_ERR},
  {t:P2_T,prod:[P2_O3HV,P2_HONO,P2_HCHO,P2_OZON],loss:[P2_OHNOX,P2_RO2NO,P2_HO2HO2,P2_RO2RO2,P2_HO2RO2,P2_SAR],lp:P2_LP,err:P2_ERR},
  {t:P3_T,prod:[P3_O3HV,P3_HONO,P3_HCHO,P3_OZON],loss:[P3_OHNOX,P3_RO2NO,P3_HO2HO2,P3_RO2RO2,P3_HO2RO2,P3_SAR],lp:P3_LP,err:P3_ERR}
];
PANELS.forEach((p,ci)=>{
  makeChart(ci,0,stackSets(p.t,p.prod,PROD_COLORS,PROD_NAMES));
  makeChart(ci,1,stackSets(p.t,p.loss,LOSS_COLORS,LOSS_NAMES));
  makeChart(ci,2,lpSets(p.t,p.lp,p.err));
});

// legends
function legend(x,y,w,h,labels,colors,tops){
  const d=document.createElement('div');d.className='lg';
  d.style.left=x+'px';d.style.top=y+'px';d.style.width=w+'px';d.style.height=h+'px';
  labels.forEach((l,i)=>{const r=document.createElement('div');r.className='r';r.style.top=tops[i]+'px';
    r.innerHTML='<span class="s" style="background:'+colors[i]+'"></span><span class="t">'+l+'</span>';d.appendChild(r);});
  root.appendChild(d);
}
legend(110,19,158,122,PROD_LEG,PROD_COLORS.slice().reverse(),[5,32.5,60,87]);
legend(110,258,208,176,LOSS_LEG,LOSS_COLORS.slice().reverse(),[6,32.9,59.8,86.7,113.6,140.5]);

// y-axis titles
[['prod. rate / ppbv h<sup>-1</sup>',134],['loss rate / ppbv h<sup>-1</sup>',375],['L.-P. / ppbv h<sup>-1</sup>',556]].forEach(([txt,y])=>{
  const d=document.createElement('div');d.className='yt';d.innerHTML=txt;d.style.left='29px';d.style.top=y+'px';root.appendChild(d);
});
</script></body></html>
